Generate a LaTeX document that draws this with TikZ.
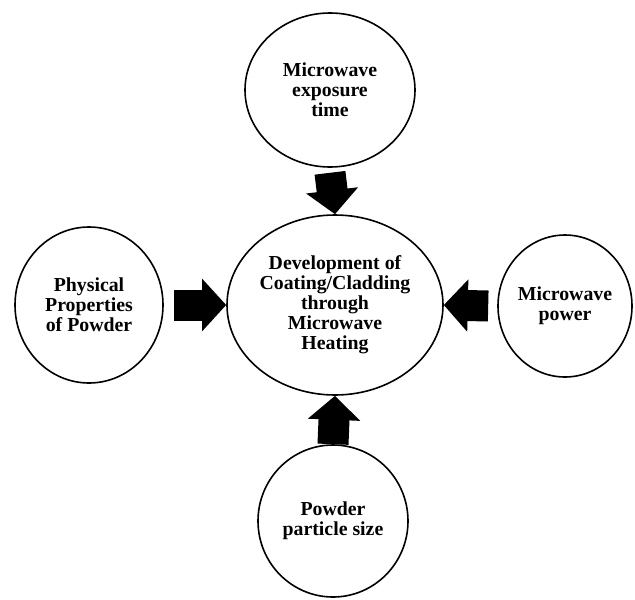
\documentclass[tikz,border=0pt]{standalone}
\usepackage{fontspec}
\setmainfont{Liberation Serif}
\usetikzlibrary{shapes.geometric,arrows.meta}
\tikzstyle{factor}=[ellipse,draw=black,line width=1.6pt,inner sep=0pt,
  align=center,font=\fontsize{19.8}{20}\selectfont\bfseries]
\tikzstyle{bigarrow}=[line width=31pt,
  -{Triangle[length=24pt,width=51pt]}]

\begin{document}
\begin{tikzpicture}[x=1pt,y=-1pt]
        \useasboundingbox (0,0) rectangle (635,600);
        \node[style=factor,minimum width=216pt,minimum height=180pt] (core) at (335,305) {Development of\\Coating/Cladding\\through\\Microwave\\Heating};
        \node[style=factor,minimum width=170pt,minimum height=154pt] (time) at (330,90) {Microwave\\exposure\\time};
        \node[style=factor,minimum width=148pt,minimum height=156pt] (props) at (89,305) {Physical\\Properties\\of Powder};
        \node[style=factor,minimum width=134pt,minimum height=142pt] (power) at (565,306) {Microwave\\power};
        \node[style=factor,minimum width=150pt,minimum height=152pt] (size) at (333,521) {Powder\\particle size};
        \draw[style=bigarrow] ([yshift=-5pt]time.south) to (core.north);
        \draw[style=bigarrow] ([xshift=10pt]props.east) to (core.west);
        \draw[style=bigarrow] ([xshift=-9pt]power.west) to (core.east);
        \draw[style=bigarrow] (size.north) to (core.south);
    \end{tikzpicture}
\end{document}
